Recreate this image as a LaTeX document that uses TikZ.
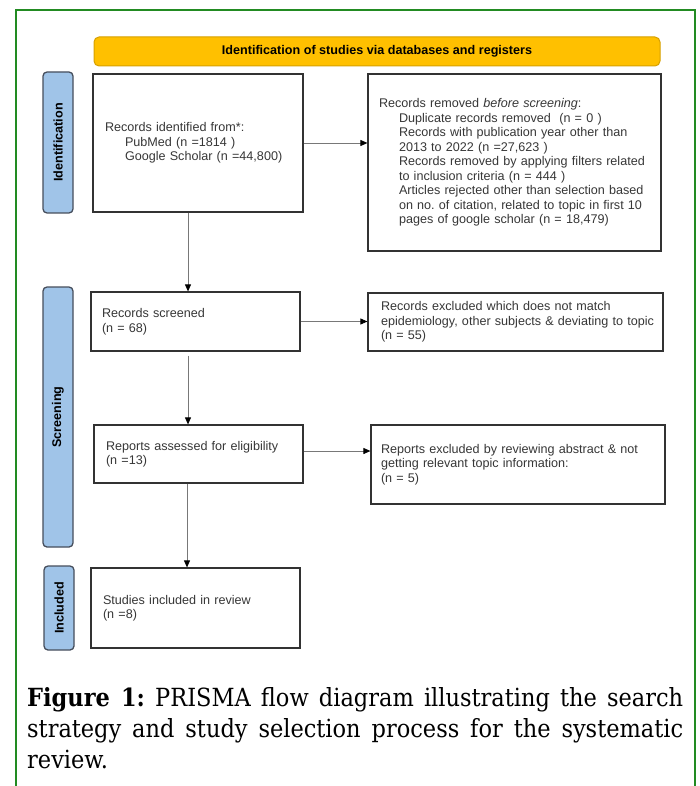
\documentclass[tikz,border=0pt]{standalone}
\usepackage{fontspec}
\setmainfont{Liberation Sans}
\newfontfamily\capfont{DejaVu Serif Condensed}
\usetikzlibrary{arrows.meta}
\frenchspacing
\definecolor{frameg}{RGB}{34,139,34}
\definecolor{bannerfill}{RGB}{255,192,0}
\definecolor{bannerdraw}{RGB}{215,160,0}
\definecolor{labfill}{RGB}{160,196,232}
\definecolor{labdraw}{RGB}{70,78,92}
\definecolor{boxc}{RGB}{50,50,50}
\definecolor{txtc}{RGB}{55,55,55}
\definecolor{connc}{RGB}{120,120,120}
\newcommand{\oneline}[1]{\mbox{#1}}
\tikzset{
  box/.style={draw=boxc, line width=1.2pt, fill=white, align=left, text=txtc,
    font=\fontsize{12.6}{14.5}\selectfont, inner ysep=0pt},
  phase/.style={draw=labdraw, fill=labfill, line width=1.3pt, rounded corners=4pt,
    rotate=90, minimum height=30pt, inner sep=0pt, font=\bfseries\fontsize{12.6}{14.5}\selectfont},
  banner/.style={draw=bannerdraw, fill=bannerfill, line width=1pt, rounded corners=5pt,
    minimum width=566pt, minimum height=29pt, inner sep=0pt, font=\bfseries\fontsize{12.6}{14.5}\selectfont},
  conn/.style={draw=connc, line width=0.9pt, -{Triangle[length=7pt,width=6pt,color=black]}},
  capline/.style={anchor=base west, inner sep=0pt, font=\capfont\fontsize{25}{31}\selectfont, text=black}
}
\begin{document}
\begin{tikzpicture}[x=1pt,y=-1pt]
\useasboundingbox (0,0) rectangle (699,786);
\fill[white] (0,0) rectangle (699,786);
% frame
\draw[frameg, line width=2pt] (16,786) -- (16,10) -- (695,10) -- (695,786);
% banner
\node[banner] (ban) at (377,51.5) {Identification of studies via databases and registers};
% phase labels
\node[phase, minimum width=141pt] (pid) at (58,142.5) {Identification};
\node[phase, minimum width=260pt] (pscr) at (58,417) {Screening};
\node[phase, minimum width=84pt] (pinc) at (59,608) {Included};
% boxes
\node[box, minimum width=210pt, minimum height=138pt, inner xsep=12pt, text width=186pt] (ident) at (198,143)
  {Records identified from*:\\
   \hspace*{20pt}PubMed (n =1814 )\\
   \hspace*{20pt}Google Scholar (n =44,800)};
\node[box, minimum width=293pt, minimum height=177pt, inner xsep=11pt, text width=271pt] (removed) at (514.5,162.5)
  {\oneline{Records removed \emph{before screening}:}\\
   \oneline{\hspace*{20pt}Duplicate records removed\ \ (n = 0 )}\\
   \oneline{\hspace*{20pt}Records with publication year other than}\\
   \oneline{\hspace*{20pt}2013 to 2022 (n =27,623 )}\\
   \oneline{\hspace*{20pt}Records removed by applying filters related}\\
   \oneline{\hspace*{20pt}to inclusion criteria (n = 444 )}\\
   \oneline{\hspace*{20pt}Articles rejected other than selection based}\\
   \oneline{\hspace*{20pt}on no. of citation, related to topic in first 10}\\
   \oneline{\hspace*{20pt}pages of google scholar (n = 18,479)}};
\node[box, minimum width=209pt, minimum height=59pt, inner xsep=11pt, text width=187pt] (scr) at (195.5,321.5)
  {Records screened\\(n = 68)};
\node[box, minimum width=295pt, minimum height=58pt, inner xsep=13pt, text width=269pt] (exc1) at (515.5,322)
  {\oneline{Records excluded which does not match}\\
   \oneline{epidemiology, other subjects \& deviating to topic}\\
   (n = 55)};
\node[box, minimum width=209pt, minimum height=58pt, inner xsep=12pt, text width=185pt] (elig) at (198.5,454)
  {Reports assessed for eligibility\\(n =13)};
\node[box, minimum width=294pt, minimum height=79pt, inner xsep=10pt, text width=274pt] (exc2) at (518,464.5)
  {\oneline{Reports excluded by reviewing abstract \& not}\\
   \oneline{getting relevant topic information:}\\
   (n = 5)};
\node[box, minimum width=209pt, minimum height=80pt, inner xsep=12pt, text width=185pt] (inc) at (195.5,608)
  {Studies included in review\\(n =8)};
% connectors
\draw[conn] (ident.east) -- (ident.east -| removed.west);
\draw[conn] ([xshift=-10pt]ident.south) -- ([xshift=-10pt]ident.south |- scr.north);
\draw[conn] (scr.east) -- (scr.east -| exc1.west);
\draw[conn, shorten <=4pt] ([xshift=-7.5pt]scr.south) -- ([xshift=-7.5pt]scr.south |- elig.north);
\draw[conn] ([yshift=3pt]elig.east) -- ([yshift=3pt]elig.east -| exc2.west);
\draw[conn] ([xshift=-11.5pt]elig.south) -- ([xshift=-11.5pt]elig.south |- inc.north);
% caption
\node[capline] (cap1) at (27,706) {\makebox[656pt][s]{\textbf{Figure 1:} PRISMA flow diagram illustrating the search}};
\node[capline] (cap2) at (27,737) {\makebox[656pt][s]{strategy and study selection process for the systematic}};
\node[capline] (cap3) at (27,768) {review.};
\end{tikzpicture}
\end{document}
